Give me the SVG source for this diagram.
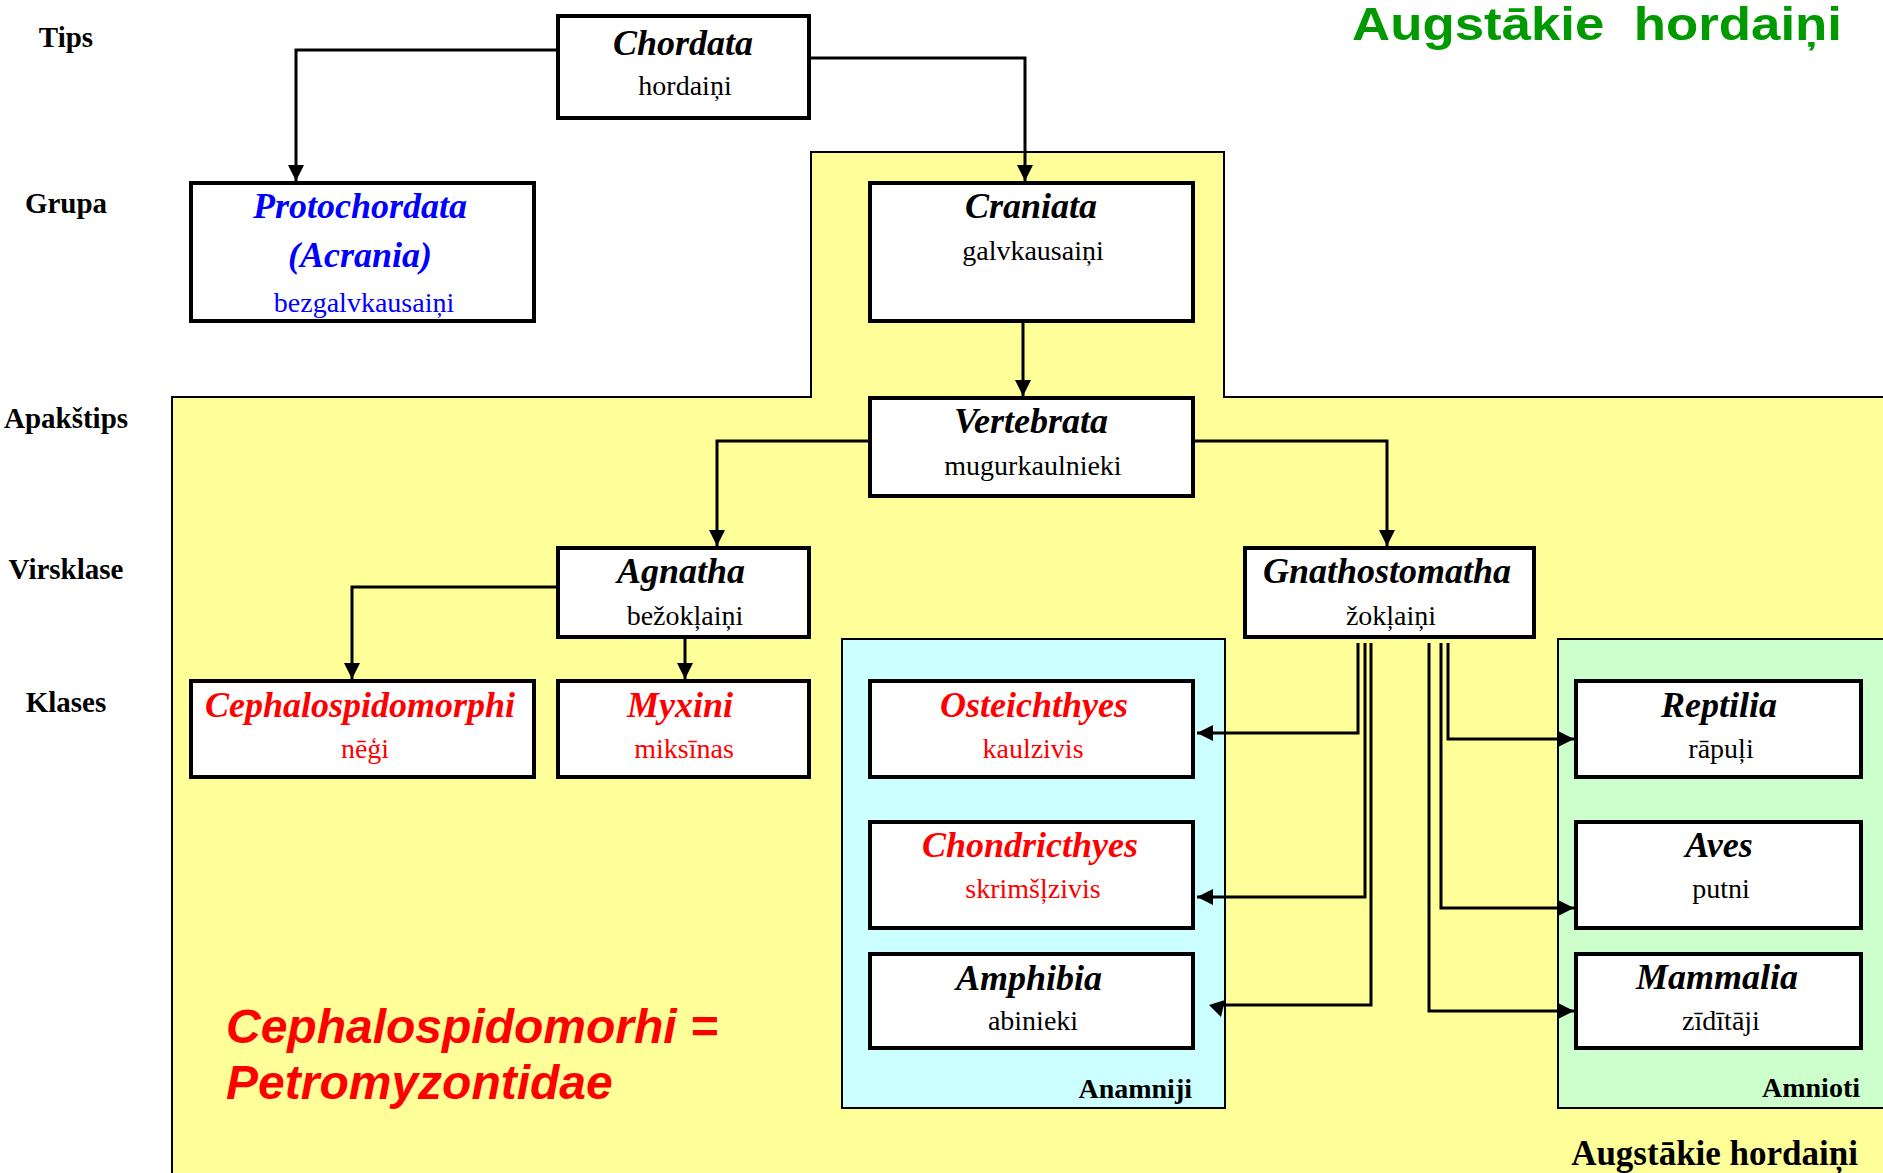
<svg xmlns="http://www.w3.org/2000/svg" width="1883" height="1173" viewBox="0 0 1883 1173">
<style>
.box{fill:#fff;stroke:#000;stroke-width:4}
.t{font-family:"Liberation Serif","Times New Roman",serif;font-size:36px;font-weight:bold;font-style:italic;text-anchor:middle;fill:#000}
.s{font-family:"Liberation Serif","Times New Roman",serif;font-size:28px;text-anchor:middle;fill:#000}
.lbl{font-family:"Liberation Serif","Times New Roman",serif;font-size:29px;font-weight:bold;text-anchor:middle;fill:#000}
.grp{font-family:"Liberation Serif","Times New Roman",serif;font-size:28px;font-weight:bold;text-anchor:end;fill:#000}
.conn{fill:none;stroke:#000;stroke-width:3}
.red{fill:#ff0000}
.blue{fill:#0000ff}
</style>
<defs>
<marker id="arr" markerUnits="userSpaceOnUse" markerWidth="16" markerHeight="16" refX="16" refY="8" orient="auto">
<path d="M0,0 L16,8 L0,16 Z" fill="#000"/>
</marker>
</defs>
<rect x="0" y="0" width="1883" height="1173" fill="#fff"/>
<g id="regions">
<path d="M172,1180 L172,397 L811,397 L811,152 L1224,152 L1224,397 L1890,397 L1890,1180 Z" fill="#ffff99" stroke="#000" stroke-width="2"/>
<rect id="anamniji-region" x="842" y="639" width="383" height="469" fill="#ccffff" stroke="#000" stroke-width="2"/>
<rect id="amnioti-region" x="1558" y="639" width="340" height="469" fill="#ccffcc" stroke="#000" stroke-width="2"/>
</g>
<text x="1352" y="40" textLength="490" lengthAdjust="spacingAndGlyphs" style="font-family:'Liberation Sans',Arial,sans-serif;font-size:46px;font-weight:bold;fill:#009900;white-space:pre">Augstākie  hordaiņi</text>
<g id="rank-labels">
<text class="lbl" x="66" y="47">Tips</text>
<text class="lbl" x="66" y="213">Grupa</text>
<text class="lbl" x="66" y="428">Apakštips</text>
<text class="lbl" x="66" y="579">Virsklase</text>
<text class="lbl" x="66" y="712">Klases</text>
</g>
<g id="connectors">
<path class="conn" d="M556,50 H296 V181" marker-end="url(#arr)"/>
<path class="conn" d="M811,58 H1025 V181" marker-end="url(#arr)"/>
<path class="conn" d="M1023,323 V396" marker-end="url(#arr)"/>
<path class="conn" d="M868,441 H717 V546" marker-end="url(#arr)"/>
<path class="conn" d="M1195,441 H1387 V546" marker-end="url(#arr)"/>
<path class="conn" d="M556,587 H352 V679" marker-end="url(#arr)"/>
<path class="conn" d="M685,639 V679" marker-end="url(#arr)"/>
<path class="conn" d="M1358,643 V733 H1197" marker-end="url(#arr)"/>
<path class="conn" d="M1365,643 V897 H1197" marker-end="url(#arr)"/>
<path class="conn" d="M1371,643 V1005 H1222"/>
<polygon points="1209,1005 1225,1000 1221,1017" fill="#000"/>
<path class="conn" d="M1448,643 V739 H1574" marker-end="url(#arr)"/>
<path class="conn" d="M1441,643 V908 H1574" marker-end="url(#arr)"/>
<path class="conn" d="M1429,643 V1011 H1574" marker-end="url(#arr)"/>
</g>
<g id="chordata">
<rect class="box" x="558" y="16" width="251" height="102"/>
<text class="t" x="683" y="55">Chordata</text>
<text class="s" x="685" y="95">hordaiņi</text>
</g>
<g id="protochordata">
<rect class="box" x="191" y="183" width="343" height="138"/>
<text class="t blue" x="360" y="218">Protochordata</text>
<text class="t blue" x="360" y="267">(Acrania)</text>
<text class="s blue" x="364" y="312">bezgalvkausaiņi</text>
</g>
<g id="craniata">
<rect class="box" x="870" y="183" width="323" height="138"/>
<text class="t" x="1031" y="218">Craniata</text>
<text class="s" x="1033" y="260">galvkausaiņi</text>
</g>
<g id="vertebrata">
<rect class="box" x="870" y="398" width="323" height="98"/>
<text class="t" x="1031" y="433">Vertebrata</text>
<text class="s" x="1033" y="475">mugurkaulnieki</text>
</g>
<g id="agnatha">
<rect class="box" x="558" y="548" width="251" height="89"/>
<text class="t" x="681" y="583">Agnatha</text>
<text class="s" x="685" y="625">bežokļaiņi</text>
</g>
<g id="gnathostomatha">
<rect class="box" x="1245" y="548" width="289" height="89"/>
<text class="t" x="1387" y="583">Gnathostomatha</text>
<text class="s" x="1391" y="625">žokļaiņi</text>
</g>
<g id="cephalospidomorphi">
<rect class="box" x="191" y="681" width="343" height="96"/>
<text class="t red" x="360" y="717">Cephalospidomorphi</text>
<text class="s red" x="365" y="758">nēģi</text>
</g>
<g id="myxini">
<rect class="box" x="558" y="681" width="251" height="96"/>
<text class="t red" x="680" y="717">Myxini</text>
<text class="s red" x="684" y="758">miksīnas</text>
</g>
<g id="osteichthyes">
<rect class="box" x="870" y="681" width="323" height="96"/>
<text class="t red" x="1034" y="717">Osteichthyes</text>
<text class="s red" x="1033" y="758">kaulzivis</text>
</g>
<g id="chondricthyes">
<rect class="box" x="870" y="822" width="323" height="106"/>
<text class="t red" x="1030" y="857">Chondricthyes</text>
<text class="s red" x="1033" y="898">skrimšļzivis</text>
</g>
<g id="amphibia">
<rect class="box" x="870" y="954" width="323" height="94"/>
<text class="t" x="1029" y="990">Amphibia</text>
<text class="s" x="1033" y="1030">abinieki</text>
</g>
<g id="reptilia">
<rect class="box" x="1576" y="681" width="285" height="96"/>
<text class="t" x="1719" y="717">Reptilia</text>
<text class="s" x="1721" y="758">rāpuļi</text>
</g>
<g id="aves">
<rect class="box" x="1576" y="822" width="285" height="106"/>
<text class="t" x="1719" y="857">Aves</text>
<text class="s" x="1721" y="898">putni</text>
</g>
<g id="mammalia">
<rect class="box" x="1576" y="954" width="285" height="94"/>
<text class="t" x="1717" y="989">Mammalia</text>
<text class="s" x="1721" y="1030">zīdītāji</text>
</g>
<g id="group-labels">
<text class="grp" x="1192" y="1098">Anamniji</text>
<text class="grp" x="1860" y="1097">Amnioti</text>
<text class="grp" x="1858" y="1165" style="font-size:35px">Augstākie hordaiņi</text>
</g>
<g id="note" style="font-family:'Liberation Sans',Arial,sans-serif;font-size:48px;font-weight:bold;font-style:italic;fill:#ff0000">
<text x="226" y="1043">Cephalospidomorhi =</text>
<text x="226" y="1099">Petromyzontidae</text>
</g>
</svg>
